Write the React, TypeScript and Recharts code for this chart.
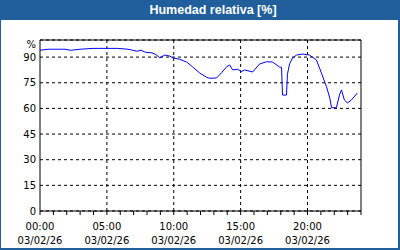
import React from 'react';
import { LineChart, Line, XAxis, YAxis, CartesianGrid, ReferenceLine } from 'recharts';

const hours = [0, 0.6, 1.87, 2.3, 3.0, 3.96, 5.82, 6.57, 6.94, 7.24, 7.54, 7.9, 8.36, 8.66, 8.96, 9.33, 9.7, 9.93, 10.45, 10.97, 11.42, 11.94, 12.46, 12.69, 13.2, 13.58, 13.96, 14.18, 14.4, 14.78, 15.07, 15.3, 15.9, 16.42, 16.94, 17.39, 17.91, 18.06, 18.13, 18.43, 18.5, 18.66, 18.88, 19.18, 19.63, 20.15, 20.67, 21.05, 21.42, 21.67, 21.8, 22.16, 22.39, 22.54, 22.76, 22.99, 23.28, 23.73];
const humidity = [94.0, 94.6, 94.6, 94.0, 94.6, 95.1, 95.1, 94.6, 94.0, 93.4, 94.0, 92.8, 92.5, 91.5, 89.6, 91.2, 90.6, 89.6, 88.7, 87.1, 84.2, 80.7, 78.2, 77.6, 77.8, 80.9, 84.4, 85.4, 82.5, 82.9, 81.5, 82.5, 81.3, 86.0, 87.3, 87.1, 84.2, 84.0, 67.8, 67.8, 80.0, 86.0, 89.5, 91.2, 91.8, 91.2, 88.3, 80.5, 72.7, 66.0, 60.4, 60.4, 67.8, 70.8, 64.9, 63.2, 64.9, 69.0];

const yTicks = [0, 15, 30, 45, 60, 75, 90];
const xTicks = Array.from({ length: 25 }, (_, i) => i);
const majorHours = [5, 10, 15, 20];
const dateLabel = '03/02/26';
const titleText = 'Humedad relativa [%]';
const unitLabel = '%';

const data = hours.map((h, i) => ({ h, v: humidity[i] }));

const BLUE = '#205f9c';
const FONT = '"DejaVu Sans", sans-serif';

const fmtHour = (h: number) => `${String(h).padStart(2, '0')}:00`;

const XTick = (props: any) => {
  const { x, y, payload } = props;
  const v = payload.value;
  if (v % 5 !== 0 || v >= 24) return <g />;
  return (
    <g>
      <text x={x} y={y + 12.5} textAnchor="middle" fontSize={10} fontFamily={FONT} fill="#000">
        {fmtHour(v)}
      </text>
      <text x={x} y={y + 27.3} textAnchor="middle" fontSize={10} fontFamily={FONT} fill="#000">
        {dateLabel}
      </text>
    </g>
  );
};

export default function App() {
  return (
    <div style={{ position: 'absolute', left: 0, top: 0, width: 400, height: 250, background: '#fff', overflow: 'hidden' }}>
      <div style={{ position: 'absolute', left: 0, top: 0 }}>
        <LineChart width={400} height={250} data={data} margin={{ top: 40, right: 39, left: 10, bottom: 9 }}>
          <CartesianGrid vertical={false} stroke="#000" strokeDasharray="3 3" />
          {majorHours.map((h) => (
            <ReferenceLine key={h} x={h} stroke="#000" strokeDasharray="3 3" />
          ))}
          <ReferenceLine y={100} stroke="#000" />
          <ReferenceLine x={24} stroke="#000" />
          <XAxis
            dataKey="h"
            type="number"
            domain={[0, 24]}
            ticks={xTicks}
            interval={0}
            height={30}
            tickSize={4}
            tickMargin={2}
            stroke="#000"
            tick={<XTick />}
            allowDataOverflow
          />
          <YAxis
            type="number"
            domain={[0, 100]}
            ticks={yTicks}
            interval={0}
            width={30}
            tickLine={false}
            tickSize={4}
            tickMargin={0}
            stroke="#000"
            tick={{ fontSize: 10, fontFamily: FONT, fill: '#000' }}
          />
          <Line
            dataKey="v"
            type="linear"
            stroke="#0000ff"
            strokeWidth={1}
            dot={false}
            isAnimationActive={false}
          />
        </LineChart>
      </div>
      <div style={{ position: 'absolute', left: 0, top: 39, width: 36, textAlign: 'right', fontSize: 10, lineHeight: '12px', fontFamily: FONT, color: '#000' }}>
        {unitLabel}
      </div>
      <div style={{ position: 'absolute', left: 0, top: 0, width: 400, height: 20, background: BLUE }}>
        <span style={{ position: 'absolute', left: 213, top: 0, transform: 'translateX(-50%)', whiteSpace: 'nowrap', color: '#fff', fontFamily: '"Liberation Sans", Arial, sans-serif', fontWeight: 'bold', fontSize: 12.5, lineHeight: '20px' }}>
          {titleText}
        </span>
      </div>
      <div style={{ position: 'absolute', left: 0, top: 0, width: 400, height: 250, boxSizing: 'border-box', borderLeft: `1px solid ${BLUE}`, borderRight: `2px solid ${BLUE}`, borderBottom: `2px solid ${BLUE}`, pointerEvents: 'none' }} />
    </div>
  );
}
